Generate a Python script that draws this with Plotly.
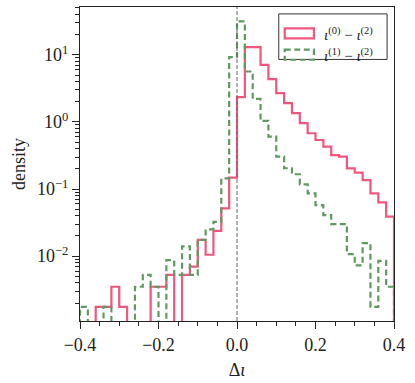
import numpy as np
import plotly.graph_objects as go

# histogram bins: 40 bins of width 0.02 from -0.4 to 0.4
bin_lo = -0.4
bin_width = 0.02

# densities (iota0 - iota2), one per bin
dens_02 = [0, 0, 0.00175, 0.00175, 0.0035, 0.00175, 0, 0, 0, 0.0035,
           0.0035, 0.00525, 0, 0.00525, 0.007, 0.0175, 0.0105, 0.0238, 0.0515, 0.1475,
           2.34, 13.0, 13.0, 7.1, 4.33, 2.68, 1.90, 1.35, 0.957, 0.678,
           0.538, 0.428, 0.321, 0.303, 0.203, 0.175, 0.136, 0.086, 0.0633, 0.0387]

# densities (iota1 - iota2)
dens_12 = [0.00175, 0, 0, 0.00175, 0, 0, 0, 0.0035, 0.00525, 0.0035,
           0, 0.0087, 0.00525, 0.014, 0.00525, 0.0175, 0.025, 0.0325, 0.144, 9.2,
           31.4, 5.64, 2.20, 1.035, 0.604, 0.303, 0.204, 0.166, 0.117, 0.086,
           0.0576, 0.0409, 0.030, 0.030, 0.0107, 0.0073, 0.0156, 0.00175, 0.0085, 0.0035]

pink = "#F2557D"
green = "#5E9A5E"
font = "Liberation Serif"


def step_xy(dens):
    edges = bin_lo + bin_width * np.arange(len(dens) + 1)
    d = np.array(dens, dtype=float)
    d[d <= 0] = 1e-6  # empty bins drop below the axis
    xs = np.repeat(edges, 2)
    ys = np.concatenate([[1e-6], np.repeat(d, 2), [1e-6]])
    return xs, ys


fig = go.Figure()
x1, y1 = step_xy(dens_02)
fig.add_trace(go.Scatter(x=x1, y=y1, mode="lines", line=dict(color=pink, width=2.2),
                         showlegend=False))
x2, y2 = step_xy(dens_12)
fig.add_trace(go.Scatter(x=x2, y=y2, mode="lines",
                         line=dict(color=green, width=2.2, dash="6px,3.5px"),
                         showlegend=False))

# dashed line at zero
fig.add_shape(type="line", xref="x", yref="paper", x0=0, x1=0, y0=0, y1=1,
              line=dict(color="#666666", width=1, dash="4px,2px"))

# hand-made legend (matplotlib style patches)
fig.add_shape(type="rect", xref="paper", yref="paper", x0=0.633, x1=0.978, y0=0.833, y1=0.978,
              line=dict(color="#333333", width=1), fillcolor="white")
fig.add_shape(type="rect", xref="paper", yref="paper", x0=0.652, x1=0.745, y0=0.932, y1=0.900,
              line=dict(color=pink, width=2.2), fillcolor="rgba(0,0,0,0)")
fig.add_shape(type="rect", xref="paper", yref="paper", x0=0.652, x1=0.745, y0=0.864, y1=0.832,
              line=dict(color=green, width=2.2, dash="6px,3.5px"), fillcolor="rgba(0,0,0,0)")
legend_labels = ["<i>ι</i><sup>(0)</sup> − <i>ι</i><sup>(2)</sup>",
                 "<i>ι</i><sup>(1)</sup> − <i>ι</i><sup>(2)</sup>"]
for lab, yy in zip(legend_labels, [0.914, 0.846]):
    fig.add_annotation(xref="paper", yref="paper", x=0.77, y=yy, text=lab, showarrow=False,
                       xanchor="left", yanchor="middle", font=dict(family=font, size=15, color="#222"))

fig.update_layout(
    width=415, height=383,
    margin=dict(l=80, r=21, t=7, b=62),
    plot_bgcolor="white", paper_bgcolor="white",
    font=dict(family=font, size=18, color="#222222"),
)
fig.update_xaxes(
    range=[-0.4, 0.4], tickvals=[-0.4, -0.2, 0.0, 0.2, 0.4],
    ticktext=["−0.4", "−0.2", "0.0", "0.2", "0.4"],
    ticks="outside", ticklen=7, tickwidth=1, tickcolor="#222",
    minor=dict(ticks="outside", dtick=0.05, ticklen=4, tickcolor="#222", showgrid=False),
    showline=True, linecolor="#222", linewidth=1, mirror=True,
    showgrid=False, zeroline=False,
    title=dict(text="Δ<i>ι</i>", standoff=9, font=dict(size=18)),
)
fig.update_yaxes(
    type="log", range=[-2.966, 1.712],
    tickvals=[0.01, 0.1, 1, 10],
    ticktext=["10<sup>−2</sup>", "10<sup>−1</sup>", "10<sup>0</sup>", "10<sup>1</sup>"],
    ticks="outside", ticklen=7, tickwidth=1, tickcolor="#222",
    minor=dict(ticks="outside", dtick="D1", ticklen=4, tickcolor="#222", showgrid=False),
    showline=True, linecolor="#222", linewidth=1, mirror=True,
    showgrid=False, zeroline=False,
    title=dict(text="density", standoff=6, font=dict(size=18)),
)

fig.write_html("out.html", config={"displayModeBar": False},
               post_script="document.body.style.margin='0';")
